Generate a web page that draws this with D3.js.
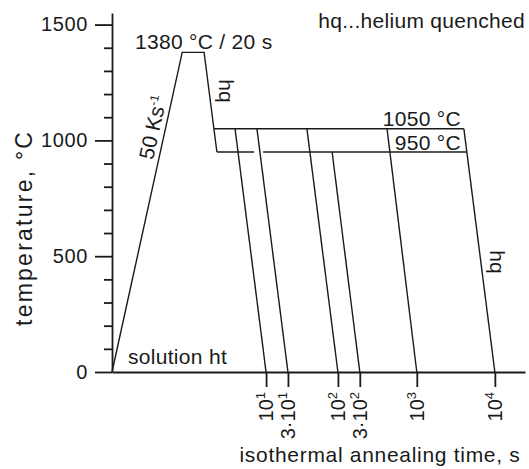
<!DOCTYPE html>
<html><head><meta charset="utf-8">
<script src="https://cdn.jsdelivr.net/npm/d3@7"></script>
<style>
body{margin:0;background:#fff}
svg text{font-family:"Liberation Sans",Arial,Helvetica,sans-serif;fill:#1a1a1a}
</style>
</head><body>
<svg id="c" width="529" height="469"></svg>
<script>
// ---- data (schematic time units on x, °C on y) ----
const yMajorTicks = [0, 500, 1000, 1500];
const yMinorTicks = [100, 200, 300, 400, 600, 700, 800, 900, 1100, 1200, 1300, 1400];
const xTickPos   = [37.3, 42.6, 54.7, 60.0, 73.8, 92.7];
const xTickPre   = ["", "3·", "", "3·", "", ""];
const xTickBase  = ["10", "10", "10", "10", "10", "10"];
const xTickExp   = ["1", "1", "2", "2", "3", "4"];
const annealTemp = [1050, 1050, 1050, 950, 1050, 1050];
const quenchStart = [29.8, 35.1, 47.2, 53.3, 66.6, 85.2];
const heatX = [0, 17, 22.3, 25.4];
const heatT = [0, 1380, 1380, 950];
const soakTemps = [1050, 950];
const gap950 = [34.4, 36.6];

const svg = d3.select("#c");
const FS = 21;
const x = d3.scaleLinear().domain([0, 100]).range([112, 525]);
const y = d3.scaleLinear().domain([0, 1550]).range([372, 13]);
const line = d3.line().x(d => x(d[0])).y(d => y(d[1]));
const ink = "#1a1a1a";

// axes
const gyMinor = svg.append("g").attr("transform", `translate(${x(0)},0)`)
  .call(d3.axisLeft(y).tickValues(yMinorTicks).tickSize(8).tickFormat("").tickSizeOuter(0));
gyMinor.select(".domain").remove();
const gy = svg.append("g").attr("transform", `translate(${x(0)},0)`)
  .call(d3.axisLeft(y).tickValues(yMajorTicks).tickFormat(d3.format("d"))
    .tickSize(17).tickPadding(7).tickSizeOuter(0));
gy.selectAll("text").attr("font-size", 20).attr("font-family", null).style("letter-spacing", "0.6px");
const gx = svg.append("g").attr("transform", `translate(0,${y(0)})`)
  .call(d3.axisBottom(x).tickValues(xTickPos).tickSize(15).tickFormat("").tickSizeOuter(0));
svg.selectAll(".domain, .tick line").attr("stroke", ink).attr("stroke-width", 1.8);

// heating + hq profile
svg.append("path").attr("d", line(heatX.map((v, i) => [v, heatT[i]])))
  .attr("fill", "none").attr("stroke", ink).attr("stroke-width", 1.4);

const hqX = T => heatX[2] + (heatT[2] - T) / (heatT[2] - heatT[3]) * (heatX[3] - heatX[2]);
const qX = (i, T) => quenchStart[i] + (annealTemp[i] - T) / annealTemp[i] * (xTickPos[i] - quenchStart[i]);

const last = quenchStart.length - 1;
svg.append("path").attr("d", line([[hqX(soakTemps[0]), soakTemps[0]], [quenchStart[last], soakTemps[0]]]))
  .attr("fill", "none").attr("stroke", ink).attr("stroke-width", 1.4);
svg.append("path").attr("d", line([[heatX[3], soakTemps[1]], [gap950[0], soakTemps[1]]]))
  .attr("fill", "none").attr("stroke", ink).attr("stroke-width", 1.4);
svg.append("path").attr("d", line([[gap950[1], soakTemps[1]], [qX(last, soakTemps[1]), soakTemps[1]]]))
  .attr("fill", "none").attr("stroke", ink).attr("stroke-width", 1.4);

quenchStart.forEach((s, i) => {
  svg.append("path").attr("d", line([[s, annealTemp[i]], [xTickPos[i], 0]]))
    .attr("fill", "none").attr("stroke", ink).attr("stroke-width", 1.4);
});

// x tick labels (rotated)
xTickPos.forEach((p, i) => {
  const t = svg.append("text")
    .attr("transform", `translate(${x(p) + 7},392) rotate(-90)`)
    .attr("text-anchor", "end").attr("font-size", 20);
  t.append("tspan").text(xTickPre[i] + xTickBase[i]);
  t.append("tspan").attr("dy", -8).attr("font-size", 13).text(xTickExp[i]);
});

// axis titles
svg.append("text").attr("transform", "translate(32,229) rotate(-90)")
  .attr("text-anchor", "middle").attr("font-size", 23)
  .attr("textLength", 194).attr("lengthAdjust", "spacing")
  .text("temperature, °C");
svg.append("text").attr("x", 380).attr("y", 462)
  .attr("text-anchor", "middle").attr("font-size", FS).style("letter-spacing", "0.7px")
  .text("isothermal annealing time, s");

// annotations
const ann = (txt, ax, ay, anchor) => svg.append("text").attr("x", ax).attr("y", ay)
  .attr("text-anchor", anchor).attr("font-size", FS).style("letter-spacing", "0.3px").text(txt);
ann("hq...helium quenched", 525, 28, "end");
ann("1380 °C / 20 s", 135, 49, "start");
ann("1050 °C", 461, 126, "end");
ann("950 °C", 461, 150, "end");
ann("solution ht", 128, 364, "start");

const ks = svg.append("text").attr("transform", "translate(160,129) rotate(-77.6)")
  .attr("text-anchor", "middle").attr("font-size", FS);
ks.append("tspan").text("50 Ks");
ks.append("tspan").attr("dy", -8).attr("font-size", 12).text("-1");

svg.append("text").attr("transform", "translate(219,91) rotate(90)")
  .attr("text-anchor", "middle").attr("font-size", FS).text("hq");
svg.append("text").attr("transform", "translate(490,262) rotate(90)")
  .attr("text-anchor", "middle").attr("font-size", FS).text("hq");
</script>
</body></html>
